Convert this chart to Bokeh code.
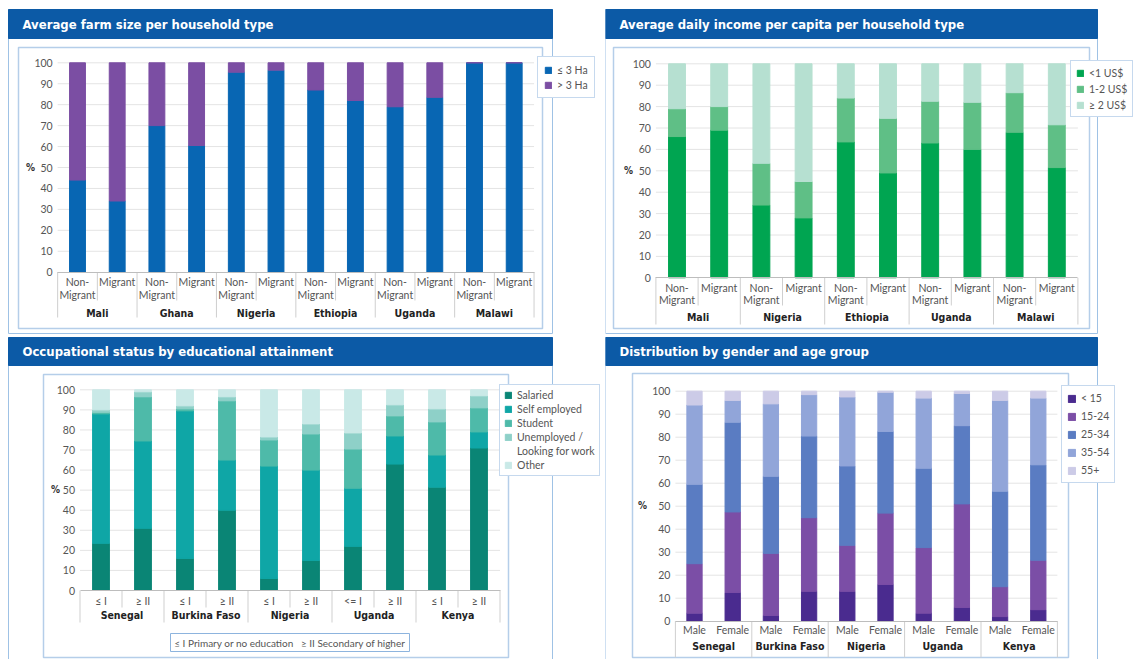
from bokeh.plotting import figure
from bokeh.models import LinearAxis, FixedTicker, Range1d, ColumnDataSource, Legend, LegendItem
from bokeh.layouts import row, column
from bokeh.embed import file_html
from bokeh.resources import INLINE
from bokeh.core.properties import value

# ---------------- data ----------------
farm_title = "Average farm size per household type"
farm_countries = ["Mali", "Ghana", "Nigeria", "Ethiopia", "Uganda", "Malawi"]
farm_groups = ["Non-\nMigrant", "Migrant"]
farm_series = ["≤ 3 Ha", "> 3 Ha"]
farm_small = [44, 34, 70, 60.5, 95.5, 96.5, 87, 82, 79, 83.5, 100, 100]
farm_large = [56, 66, 30, 39.5, 4.5, 3.5, 13, 18, 21, 16.5, 0, 0]

income_title = "Average daily income per capita per household type"
income_countries = ["Mali", "Nigeria", "Ethiopia", "Uganda", "Malawi"]
income_groups = ["Non-\nMigrant", "Migrant"]
income_series = ["<1 US$", "1-2 US$", "≥ 2 US$"]
income_lt1 = [66, 69, 34, 28, 63.5, 49, 63, 60, 68, 51.5]
income_1to2 = [13, 11, 19.5, 17, 20.5, 25.5, 19.5, 22, 18.5, 20]
income_ge2 = [21, 20, 46.5, 55, 16, 25.5, 17.5, 18, 13.5, 28.5]

occ_title = "Occupational status by educational attainment"
occ_countries = ["Senegal", "Burkina Faso", "Nigeria", "Uganda", "Kenya"]
occ_levels = ["≤ I", "≥ II", "≤ I", "≥ II", "≤ I", "≥ II", "<= I", "≥ II", "≤ I", "≥ II"]
occ_series = ["Salaried", "Self employed", "Student", "Unemployed /\nLooking for work", "Other"]
occ_salaried = [23.5, 31, 16, 40, 6, 15, 22, 63, 51.5, 71]
occ_self = [64.5, 43.5, 73.5, 25, 56, 45, 29, 14, 16, 8]
occ_student = [0.8, 22, 1, 29.5, 13, 18, 19.5, 10, 16.5, 12]
occ_unemployed = [1.2, 2.5, 1.5, 2, 1.5, 5, 8, 5.5, 6.5, 6]
occ_other = [10, 1, 8, 3.5, 23.5, 17, 21.5, 7.5, 9.5, 3]
occ_note = "≤ I\u00a0Primary or no education\u00a0\u00a0\u00a0≥ II\u00a0Secondary of higher"

age_title = "Distribution by gender and age group"
age_countries = ["Senegal", "Burkina Faso", "Nigeria", "Uganda", "Kenya"]
age_groups = ["Male", "Female"]
age_series = ["< 15", "15-24", "25-34", "35-54", "55+"]
age_lt15 = [3.5, 12.5, 2.5, 13, 13, 16, 3.5, 6, 2, 5]
age_15_24 = [21.5, 35, 27, 32, 20, 31, 28.5, 45, 13, 21.5]
age_25_34 = [34.5, 39, 33.5, 35.5, 34.5, 35.5, 34.5, 34, 41.5, 41.5]
age_35_54 = [34.5, 9.5, 31.5, 18, 30, 17, 30.5, 14, 39.5, 29]
age_55p = [6, 4, 5.5, 1.5, 2.5, 0.5, 3, 1, 4, 3]

y_ticks = [0, 10, 20, 30, 40, 50, 60, 70, 80, 90, 100]

# ---------------- style ----------------
FONT = "Lato"
TFONT = "'Liberation Sans Narrow', 'DejaVu Sans Condensed', Roboto"
HEAD = "#0c5aa6"
OUTER = "#9fc2e5"
INNER = "#b5cee9"


def make_panel(c, title, countries, sub_labels, series, stacks, colors):
    W, H, ox, oy = c["W"], c["H"], c["ox"], c["oy"]
    cx0, dx, py0, py100 = c["cx0"], c["dx"], c["py0"], c["py100"]
    n = len(sub_labels)
    u = 100.0 / (py0 - py100)

    def X(px):
        return (px - cx0) / dx

    def Y(py):
        return (py0 - py) * u

    p = figure(width=W, height=H, x_range=Range1d(X(ox), X(ox + W)),
               y_range=Range1d(Y(oy + H), Y(oy)), x_axis_type=None, y_axis_type=None,
               toolbar_location=None, output_backend="svg", min_border=0,
               outline_line_color=None, background_fill_color="white",
               border_fill_color="white")
    p.grid.visible = False

    # panel frame + header
    l, t, r, b = c["outer"]
    p.quad(left=[X(l)], right=[X(r)], top=[Y(t)], bottom=[Y(b)],
           fill_color="white", line_color=OUTER, line_width=1)
    p.quad(left=[X(l)], right=[X(r)], top=[Y(t)], bottom=[Y(c["head_b"])],
           fill_color=HEAD, line_color=HEAD)
    tx, ty = c["title_xy"]
    p.text(x=[X(tx)], y=[Y(ty)], text=[title], text_font=value(TFONT),
           text_font_style="bold", text_font_size="13px", text_color="white",
           text_baseline="middle", text_align="left")
    l, t, r, b = c["inner"]
    p.quad(left=[X(l)], right=[X(r)], top=[Y(t)], bottom=[Y(b)],
           fill_color=None, line_color=INNER, line_width=1.5)

    # grid lines
    gl = [v for v in y_ticks if v > 0]
    p.segment(x0=[-0.5] * len(gl), x1=[n - 0.5] * len(gl), y0=gl, y1=gl,
              line_color="#e4e4e4", line_width=1)

    # category separators
    bx, by = [], []
    for k in range(n + 1):
        if k % 2 == 0:
            bx.append(k - 0.5)
            by.append(Y(c["grp_sep"]))
        elif c["sub_sep"] is not None:
            bx.append(k - 0.5)
            by.append(Y(c["sub_sep"]))
    p.segment(x0=bx, x1=bx, y0=[0] * len(bx), y1=by, line_color="#cfcfcf", line_width=1)

    # bars
    keys = ["s%d" % i for i in range(len(stacks))]
    data = {"x": list(range(n))}
    for k_, s in zip(keys, stacks):
        data[k_] = s
    src = ColumnDataSource(data)
    rs = p.vbar_stack(keys, x="x", width=0.4, color=colors, source=src)

    # axes
    ya = LinearAxis(fixed_location=-0.5, ticker=FixedTicker(ticks=y_ticks), bounds=(0, 100),
                    axis_line_color=None, major_tick_line_color=None, major_tick_out=0,
                    minor_tick_line_color=None, minor_tick_out=0, major_label_standoff=5,
                    major_label_text_font=FONT, major_label_text_font_size="10.5px",
                    major_label_text_color="#555555")
    p.add_layout(ya, "left")
    xa = LinearAxis(fixed_location=0, ticker=FixedTicker(ticks=list(range(n))),
                    bounds=(-0.5, n - 0.5),
                    major_label_overrides={i: s for i, s in enumerate(sub_labels)},
                    axis_line_color="#bdbdbd", major_tick_line_color=None, major_tick_out=0,
                    minor_tick_line_color=None, minor_tick_out=0,
                    major_label_standoff=c["sub_standoff"],
                    major_label_text_font=FONT, major_label_text_font_size="10.5px",
                    major_label_text_color="#555555", major_label_text_line_height=1.05)
    p.add_layout(xa, "below")
    gt = [2 * i + 0.5 for i in range(len(countries))]
    ga = LinearAxis(fixed_location=Y(c["grp_px"]), ticker=FixedTicker(ticks=gt),
                    bounds=(-0.5, n - 0.5),
                    major_label_overrides={g: s for g, s in zip(gt, countries)},
                    axis_line_color=None, major_tick_line_color=None, major_tick_out=0,
                    minor_tick_line_color=None, minor_tick_out=0, major_label_standoff=0,
                    major_label_text_font=TFONT, major_label_text_font_style="bold",
                    major_label_text_font_size="10.5px", major_label_text_color="#222222")
    p.add_layout(ga, "below")

    px_, py_ = c["pct_xy"]
    p.text(x=[X(px_)], y=[Y(py_)], text=["%"], text_font=value(TFONT), text_font_style="bold",
           text_font_size="10px", text_color="#333333", text_baseline="middle",
           text_align="center")

    # legend
    items = []
    for lab, rr in zip(series, rs):
        parts = lab.split("\n")
        items.append(LegendItem(label=parts[0], renderers=[rr]))
        for extra in parts[1:]:
            dummy = p.vbar(x=[], top=[], width=0.4, fill_alpha=0, line_alpha=0)
            items.append(LegendItem(label=extra, renderers=[dummy]))
    lh, sp, pad = c["leg_h"], c["leg_sp"], c["leg_pad"]
    leg_height = len(items) * lh + (len(items) - 1) * sp + 2 * pad
    lx, ly = c["legend_xy"]
    leg = Legend(items=items, location=(lx - ox, oy + H - (ly + leg_height)), margin=0,
                 padding=pad, spacing=sp, label_height=lh, glyph_height=c["glyph"],
                 glyph_width=c["glyph"], label_standoff=5, label_text_font=FONT,
                 label_text_font_size="10.5px", label_text_color="#555555",
                 border_line_color="#8db4de", border_line_width=1,
                 background_fill_color="white", background_fill_alpha=1)
    p.add_layout(leg)

    if "note_box" in c:
        l, t, r, b = c["note_box"]
        p.quad(left=[X(l)], right=[X(r)], top=[Y(t)], bottom=[Y(b)],
               fill_color="white", line_color="#8db4de", line_width=1)
        p.text(x=[X((l + r) / 2)], y=[Y((t + b) / 2)], text=[c["note"]],
               text_font=value(FONT), text_font_size="10px", text_color="#555555",
               text_baseline="middle", text_align="center")
    return p


cfg1 = dict(W=605, H=335, ox=0, oy=0, cx0=77, dx=39.7, py0=271.7, py100=62.3,
            outer=(8, 9, 552, 333), head_b=38, title_xy=(22, 24), inner=(18, 47, 542, 328),
            pct_xy=(30, 167), sub_sep=300, grp_sep=317, grp_px=306, sub_standoff=4,
            legend_xy=(537, 58), leg_h=13, leg_sp=2, leg_pad=6, glyph=8)
cfg2 = dict(W=529, H=335, ox=605, oy=0, cx0=676.5, dx=42.2, py0=277.3, py100=63.3,
            outer=(605, 9, 1097, 333), head_b=38, title_xy=(619, 24), inner=(613, 47, 1089, 328),
            pct_xy=(628, 170), sub_sep=305, grp_sep=324, grp_px=310, sub_standoff=4,
            legend_xy=(1070, 62), leg_h=13, leg_sp=3, leg_pad=5, glyph=8)
cfg3 = dict(W=605, H=324, ox=0, oy=335, cx0=100.5, dx=42, py0=590, py100=389.3,
            outer=(8, 337, 552, 670), head_b=365, title_xy=(22, 351), inner=(43, 374, 508, 657),
            pct_xy=(55, 489), sub_sep=607, grp_sep=622, grp_px=608, sub_standoff=4,
            legend_xy=(499, 386), leg_h=12, leg_sp=2, leg_pad=4, glyph=8,
            note_box=(170, 633, 409, 651), note=occ_note)
cfg4 = dict(W=529, H=324, ox=605, oy=335, cx0=694, dx=38.2, py0=620.7, py100=390.7,
            outer=(605, 337, 1097, 670), head_b=365, title_xy=(619, 351), inner=(632, 373, 1068, 657),
            pct_xy=(642, 505), sub_sep=None, grp_sep=657, grp_px=639, sub_standoff=3,
            legend_xy=(1061, 387), leg_h=14, leg_sp=4, leg_pad=5, glyph=9)

p1 = make_panel(cfg1, farm_title, farm_countries, farm_groups * len(farm_countries),
                farm_series, [farm_small, farm_large], ["#0866b3", "#7b4ea3"])
p2 = make_panel(cfg2, income_title, income_countries, income_groups * len(income_countries),
                income_series, [income_lt1, income_1to2, income_ge2],
                ["#00a551", "#5fbf86", "#b6e0d1"])
p3 = make_panel(cfg3, occ_title, occ_countries, occ_levels, occ_series,
                [occ_salaried, occ_self, occ_student, occ_unemployed, occ_other],
                ["#0a8575", "#0fa6a6", "#4ebaa9", "#8ed0c8", "#c9e9e7"])
p4 = make_panel(cfg4, age_title, age_countries, age_groups * len(age_countries), age_series,
                [age_lt15, age_15_24, age_25_34, age_35_54, age_55p],
                ["#4a2b8f", "#7b4ea6", "#5a7cc2", "#91a5d9", "#cccbe7"])

layout = column(row(p1, p2), row(p3, p4))
open("out.html", "w").write(file_html(layout, INLINE, "Migration charts"))
